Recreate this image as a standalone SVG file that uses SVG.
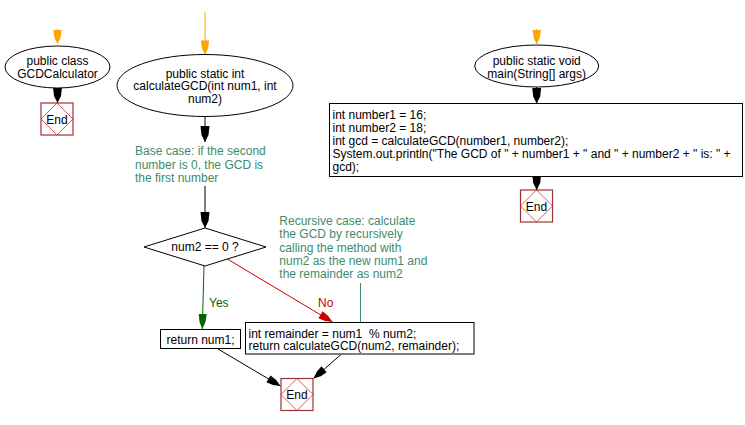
<svg xmlns="http://www.w3.org/2000/svg" width="745" height="425" viewBox="0 0 745 425">
<defs>
<style>
text{font-family:"Liberation Sans",Arial,sans-serif;font-size:12px;fill:#000}
.c{text-anchor:middle}
.cm{fill:#3d8c6c}
.node{fill:#fff;stroke:#000;stroke-width:1}
.endr{fill:#fff;stroke:#993333;stroke-width:1.2}
.endd{fill:none;stroke:#cc3333;stroke-width:0.8}
.k{fill:none;stroke:#000;stroke-width:1}
</style>
<marker id="ab" viewBox="-16 -5 16 10" refX="0" refY="0" markerWidth="16" markerHeight="10" markerUnits="userSpaceOnUse" orient="auto"><path d="M0,0 L-7,-3.5 L-16,-4.5 L-16,4.5 L-7,3.5 Z" fill="#000"/></marker>
<marker id="ao" viewBox="-15 -5 15 10" refX="0" refY="0" markerWidth="15" markerHeight="10" markerUnits="userSpaceOnUse" orient="auto"><path d="M0,0 L-6,-3 L-14,-4.2 L-14,4.2 L-6,3 Z" fill="#ffa500"/></marker>
<marker id="ag" viewBox="-16 -5 16 10" refX="0" refY="0" markerWidth="16" markerHeight="10" markerUnits="userSpaceOnUse" orient="auto"><path d="M0,0 L-7,-3 L-15,-4 L-15,4 L-7,3 Z" fill="#006600"/></marker>
<marker id="ar" viewBox="-16 -5 16 10" refX="0" refY="0" markerWidth="16" markerHeight="10" markerUnits="userSpaceOnUse" orient="auto"><path d="M0,0 L-7,-3 L-14,-4 L-14,4 L-7,3 Z" fill="#cc0000"/></marker>
<marker id="at" viewBox="-16 -5 16 10" refX="0" refY="0" markerWidth="16" markerHeight="10" markerUnits="userSpaceOnUse" orient="auto"><path d="M0,0 L-7,-3 L-14,-4 L-14,4 L-7,3 Z" fill="#000"/></marker>
</defs>
<rect width="745" height="425" fill="#fff"/>

<g id="connectors">
<line x1="57.5" y1="29" x2="57.5" y2="44" stroke="#ffa500" marker-end="url(#ao)"/>
<line x1="205" y1="12" x2="205" y2="54.5" stroke="#ffa500" marker-end="url(#ao)"/>
<line x1="536.7" y1="29" x2="536.7" y2="44" stroke="#ffa500" marker-end="url(#ao)"/>
<line x1="57.5" y1="88" x2="57.5" y2="103" class="k" marker-end="url(#ab)"/>
<line x1="205" y1="116.5" x2="205" y2="142" class="k" marker-end="url(#ab)"/>
<line x1="205" y1="186" x2="205" y2="228" class="k" marker-end="url(#ab)"/>
<line x1="536.7" y1="87" x2="536.7" y2="103.5" class="k" marker-end="url(#ab)"/>
<line x1="536.7" y1="176.5" x2="536.7" y2="190" class="k" marker-end="url(#ab)"/>
<line x1="204" y1="266" x2="202.3" y2="329" stroke="#006600" marker-end="url(#ag)"/>
<text x="209" y="307" style="fill:#006600">Yes</text>
<line x1="226.5" y1="258.5" x2="332.5" y2="322" stroke="#cc0000" marker-end="url(#ar)"/>
<text x="318" y="307" style="fill:#cc0000">No</text>
<line x1="360.5" y1="283" x2="360.5" y2="322.5" stroke="#3d8c6c"/>
<line x1="218" y1="349" x2="280.5" y2="386" class="k" marker-end="url(#at)"/>
<line x1="341" y1="354.5" x2="313.5" y2="378.5" class="k" marker-end="url(#at)"/>
</g>

<g id="class-start">
<ellipse cx="57.5" cy="67" rx="52.5" ry="21" class="node"/>
<text x="57.5" y="65" class="c">public class</text>
<text x="57.5" y="78" class="c">GCDCalculator</text>
</g>
<g id="class-end">
<rect x="41" y="103" width="32" height="32" class="endr"/>
<polygon points="57,103 73,119 57,135 41,119" class="endd"/>
<text x="57" y="123.5" class="c">End</text>
</g>

<g id="gcd-start">
<ellipse cx="205" cy="85.5" rx="88" ry="31" class="node"/>
<text x="205" y="77.5" class="c">public static int</text>
<text x="205" y="90" class="c">calculateGCD(int num1, int</text>
<text x="205" y="103" class="c">num2)</text>
</g>
<g id="comment-base">
<text x="135" y="155" class="cm">Base case: if the second</text>
<text x="135" y="168.5" class="cm">number is 0, the GCD is</text>
<text x="135" y="182" class="cm">the first number</text>
</g>
<g id="decision">
<polygon points="205,228 266,247 205,266 144,247" class="node"/>
<text x="205" y="251" class="c">num2 == 0 ?</text>
</g>
<g id="comment-rec">
<text x="279.3" y="225" class="cm">Recursive case: calculate</text>
<text x="279.3" y="238.3" class="cm">the GCD by recursively</text>
<text x="279.3" y="251.6" class="cm">calling the method with</text>
<text x="279.3" y="265" class="cm">num2 as the new num1 and</text>
<text x="279.3" y="278.3" class="cm">the remainder as num2</text>
</g>
<g id="return-num1">
<rect x="160.5" y="329.5" width="80" height="19" class="node"/>
<text x="200.5" y="343.5" class="c">return num1;</text>
</g>
<g id="recursive-call">
<rect x="245.5" y="322.5" width="228.5" height="31.5" class="node"/>
<text x="248.5" y="337.5" xml:space="preserve">int remainder = num1  % num2;</text>
<text x="248.5" y="350">return calculateGCD(num2, remainder);</text>
</g>
<g id="gcd-end">
<rect x="281" y="378.5" width="32" height="32" class="endr"/>
<polygon points="297,378.5 313,394.5 297,410.5 281,394.5" class="endd"/>
<text x="297" y="399" class="c">End</text>
</g>

<g id="main-start">
<ellipse cx="536.7" cy="66" rx="62" ry="21" class="node"/>
<text x="536.7" y="65" class="c">public static void</text>
<text x="536.7" y="77.5" class="c">main(String[] args)</text>
</g>
<g id="main-body">
<rect x="329.5" y="103.5" width="413" height="73" class="node"/>
<text x="332.5" y="118.5">int number1 = 16;</text>
<text x="332.5" y="131.5">int number2 = 18;</text>
<text x="332.5" y="144.5">int gcd = calculateGCD(number1, number2);</text>
<text x="332.5" y="157.5">System.out.println("The GCD of " + number1 + " and " + number2 + " is: " +</text>
<text x="332.5" y="170.5">gcd);</text>
</g>
<g id="main-end">
<rect x="520.5" y="190" width="32" height="32" class="endr"/>
<polygon points="536.5,190 552.5,206 536.5,222 520.5,206" class="endd"/>
<text x="536.5" y="210.5" class="c">End</text>
</g>
</svg>
